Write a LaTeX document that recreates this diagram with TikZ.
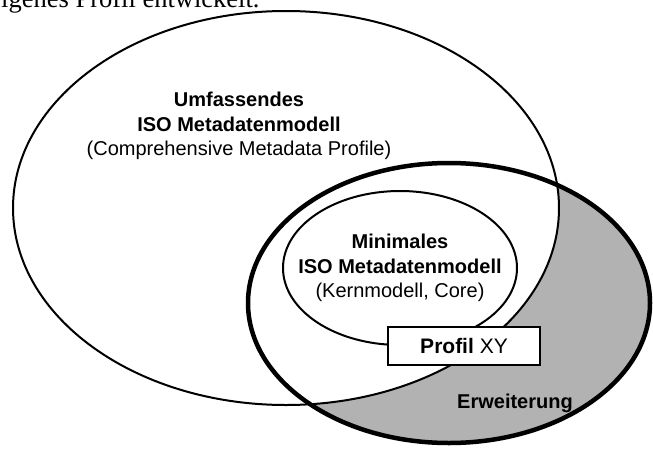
\documentclass[tikz,border=0pt]{standalone}
\usepackage{fontspec}
\setmainfont{Liberation Sans}
\newfontfamily\seriffont{Liberation Serif}
\begin{document}
\begin{tikzpicture}[x=1pt,y=-1pt,
  thinline/.style={draw=black,line width=2pt},
  thickline/.style={draw=black,line width=4.5pt},
  lbl/.style={align=center,inner sep=0pt,font=\fontsize{20}{24.5}\selectfont},
  boxnode/.style={draw=black,line width=1.2pt,fill=white,minimum width=152pt,minimum height=38pt,inner sep=0pt,font=\fontsize{21}{24}\selectfont}]
\useasboundingbox (0,0) rectangle (653,450);
\fill[white] (0,0) rectangle (653,450);
% cut-off line of surrounding text
\begin{scope}
\clip (0,0) rectangle (653,450);
\node[anchor=base west,inner sep=0pt,font=\seriffont\fontsize{26.5}{30}\selectfont] (toptext) at (1,7.5) {igenes Profil entwickelt.};
\end{scope}
% centres
\coordinate (cbig) at (286,208);
\coordinate (cext) at (449,303);
\coordinate (ccore) at (400,268);
% shading: extension outside the comprehensive model
\fill[gray!60] (cext) ellipse [x radius=201, y radius=140];
\fill[white] (cbig) ellipse [x radius=273, y radius=197];
% outlines
\draw[thinline] (cbig) ellipse [x radius=273, y radius=197];
\draw[thinline] (ccore) ellipse [x radius=117, y radius=77];
\draw[thickline] (cext) ellipse [x radius=201, y radius=140];
% labels
\node[lbl] (big) at (239,126) {\textbf{Umfassendes}\\\textbf{ISO Metadatenmodell}\\(Comprehensive Metadata Profile)};
\node[lbl] (core) at (400,268) {\textbf{Minimales}\\\textbf{ISO Metadatenmodell}\\(Kernmodell, Core)};
\node[boxnode] (profil) at (464,346) {\textbf{Profil} XY};
\node[lbl,font=\fontsize{20}{24}\selectfont\bfseries] (ext) at (515,403) {Erweiterung};
\end{tikzpicture}
\end{document}
